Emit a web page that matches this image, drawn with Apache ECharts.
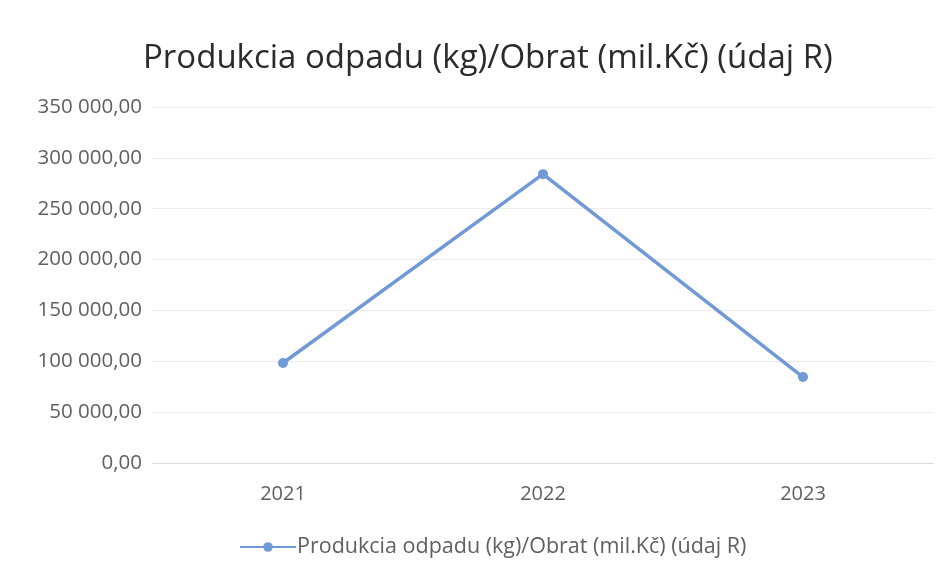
<!DOCTYPE html>
<html><head><meta charset="utf-8">
<script src="https://cdn.jsdelivr.net/npm/echarts@6/dist/echarts.min.js"></script>
<style>html,body{margin:0;padding:0;background:#fff}#c{width:952px;height:577px}</style>
</head><body><div id="c"></div>
<script>
const titleText = 'Produkcia odpadu (kg)/Obrat (mil.Kč) (údaj R)';
const seriesName = 'Produkcia odpadu (kg)/Obrat (mil.Kč) (údaj R)';
const categories = ['2021', '2022', '2023'];
const values = [98300, 284000, 84500];

function fmt(v) {
  const s = v.toFixed(2).split('.');
  return s[0].replace(/\B(?=(\d{3})+(?!\d))/g, ' ') + ',' + s[1];
}

const chart = echarts.init(document.getElementById('c'), null, {renderer: 'canvas'});
chart.setOption({
  animation: false,
  backgroundColor: '#fff',
  title: {
    text: titleText, left: 138, top: 37,
    textStyle: {fontFamily: 'Open Sans', fontSize: 33, fontWeight: 'normal', color: '#2b2b2b'}
  },
  legend: {
    bottom: 14, left: 234,
    itemWidth: 56, itemHeight: 12, itemGap: 4,
    textStyle: {fontFamily: 'Open Sans', fontSize: 21.5, color: '#606060', padding: [0, 0, 0, -4]},
    data: [seriesName]
  },
  grid: {left: 153, right: 19, top: 107, bottom: 114},
  xAxis: {
    type: 'category', data: categories, boundaryGap: true,
    axisLine: {lineStyle: {color: '#d9d9d9'}},
    axisTick: {show: false},
    axisLabel: {fontFamily: 'Open Sans', fontSize: 20, color: '#606060', margin: 21}
  },
  yAxis: {
    type: 'value', min: 0, max: 350000, interval: 50000,
    axisLine: {show: false}, axisTick: {show: false},
    splitLine: {lineStyle: {color: '#ebebeb'}},
    axisLabel: {fontFamily: 'Open Sans', fontSize: 20.5, color: '#606060', margin: 11, formatter: fmt}
  },
  series: [{
    name: seriesName, type: 'line', data: values,
    symbol: 'circle', symbolSize: 10,
    lineStyle: {color: '#7099d6', width: 3.5},
    itemStyle: {color: '#7099d6'}
  }]
});
</script></body></html>
